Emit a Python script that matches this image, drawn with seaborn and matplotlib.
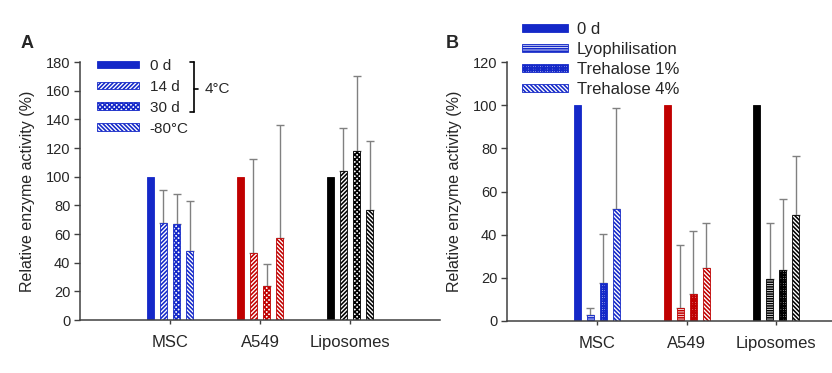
import numpy as np
import pandas as pd
import matplotlib
matplotlib.use("Agg")
import matplotlib.pyplot as plt
import seaborn as sns
from matplotlib.patches import Patch
from matplotlib.lines import Line2D
from matplotlib.container import BarContainer

# ---- data ----
cells = ["MSC", "A549", "Liposomes"]
cell_colors = ["#1428c8", "#c00000", "#000000"]

storage_conds = ["0 d", "14 d", "30 d", "-80°C"]
storage_mean = {
    "MSC":       [100, 68, 67, 48],
    "A549":      [100, 47, 24, 57],
    "Liposomes": [100, 104, 118, 77],
}
storage_err = {
    "MSC":       [0, 23, 21, 35],
    "A549":      [0, 65, 15, 79],
    "Liposomes": [0, 30, 52, 48],
}

lyo_conds = ["0 d", "Lyophilisation", "Trehalose 1%", "Trehalose 4%"]
lyo_mean = {
    "MSC":       [100, 3, 17.5, 52],
    "A549":      [100, 6, 12.4, 24.4],
    "Liposomes": [100, 19.6, 23.7, 49],
}
lyo_err = {
    "MSC":       [0, 3.2, 23, 46.5],
    "A549":      [0, 29, 29.4, 21],
    "Liposomes": [0, 25.6, 32.7, 27.5],
}

hatches_a = [None, "/" * 8, "x" * 7, "\\" * 8]
hatches_b = [None, "-" * 7, "+" * 7, "\\" * 8]

sns.set_style("white")
plt.rcParams["font.family"] = ["Liberation Sans", "DejaVu Sans"]
plt.rcParams["hatch.linewidth"] = 1.15

W, H = 832, 373
fig = plt.figure(figsize=(W / 100, H / 100), dpi=100)


def to_long(means, errs, conds):
    rows = []
    for cell in cells:
        for cond, m, e in zip(conds, means[cell], errs[cell]):
            rows.append({"cell": cell, "cond": cond, "value": m, "err": e})
    return pd.DataFrame(rows)


def draw_panel(ax, df, conds, hatches, ymax, xright):
    sns.barplot(data=df, x="cell", y="value", hue="cond", order=cells,
                hue_order=conds, width=0.58, gap=0.46, errorbar=None,
                legend=False, ax=ax)
    bars = [c for c in ax.containers if isinstance(c, BarContainer)]
    for k, cont in enumerate(bars):
        for j, bar in enumerate(cont):
            col = cell_colors[j]
            if hatches[k] is None:
                bar.set_facecolor(col)
                bar.set_edgecolor(col)
            else:
                bar.set_facecolor("white")
                bar.set_edgecolor(col)
                bar.set_hatch(hatches[k])
            bar.set_linewidth(0.6)
            e = df[(df.cell == cells[j]) & (df.cond == conds[k])]["err"].iloc[0]
            if e > 0:
                x = bar.get_x() + bar.get_width() / 2
                ax.errorbar(x, bar.get_height(), yerr=[[0], [e]], color="#808080",
                            lw=1, capsize=3, capthick=1, zorder=0)
    ax.set_xlim(-1, xright)
    ax.set_ylim(0, ymax)
    ax.set_yticks(np.arange(0, ymax + 1, 20))
    ax.set_xlabel("")
    ax.set_ylabel("Relative enzyme activity (%)", fontsize=11.5, labelpad=8)
    sns.despine(ax=ax)
    for s in ["left", "bottom"]:
        ax.spines[s].set_color("#404040")
        ax.spines[s].set_linewidth(1.1)
    ax.tick_params(axis="y", direction="out", length=4, width=1, color="#404040",
                   labelsize=10.5, pad=3, left=True)
    ax.tick_params(axis="x", direction="out", length=3, width=1, color="#404040",
                   labelsize=12, pad=8, bottom=True)


# ---- panel A ----
axA = fig.add_axes([80 / W, 53 / H, 360 / W, 258 / H])
draw_panel(axA, to_long(storage_mean, storage_err, storage_conds),
           storage_conds, hatches_a, 180, 3)

handles_a = [Patch(facecolor=cell_colors[0] if h is None else "white",
                   edgecolor=cell_colors[0], hatch=h, linewidth=0.6)
             for h in hatches_a]
axA.legend(handles_a, storage_conds, loc="upper left", frameon=False,
           bbox_to_anchor=(97 / W, 1 - 59 / H), bbox_transform=fig.transFigure,
           borderpad=0, borderaxespad=0, handlelength=2.75, handleheight=0.4,
           handletextpad=0.7, labelspacing=0.45, fontsize=11)

# brace for the 4°C group
bx = 194 / W
for seg in [([190 / W, bx], [1 - 62 / H, 1 - 62 / H]),
            ([bx, bx], [1 - 62 / H, 1 - 112 / H]),
            ([190 / W, bx], [1 - 112 / H, 1 - 112 / H]),
            ([bx, 198 / W], [1 - 89 / H, 1 - 89 / H])]:
    fig.add_artist(Line2D(seg[0], seg[1], color="black", lw=1.2))
fig.text(205 / W, 1 - 89 / H, "4°C", fontsize=11, va="center", ha="left")

# ---- panel B ----
axB = fig.add_axes([507 / W, 52 / H, 325 / W, 259 / H])
draw_panel(axB, to_long(lyo_mean, lyo_err, lyo_conds),
           lyo_conds, hatches_b, 120, 2.62)

handles_b = [Patch(facecolor=cell_colors[0] if h is None else "white",
                   edgecolor=cell_colors[0], hatch=h, linewidth=0.6)
             for h in hatches_b]
axB.legend(handles_b, lyo_conds, loc="upper left", frameon=False,
           bbox_to_anchor=(522 / W, 1 - 22 / H), bbox_transform=fig.transFigure,
           borderpad=0, borderaxespad=0, handlelength=2.75, handleheight=0.4,
           handletextpad=0.55, labelspacing=0.3, fontsize=12)

# panel letters
fig.text(27 / W, 1 - 44 / H, "A", fontsize=13, fontweight="bold",
         ha="center", va="center")
fig.text(452 / W, 1 - 43 / H, "B", fontsize=13, fontweight="bold",
         ha="center", va="center")

fig.savefig("out.png", dpi=100, facecolor="white")
